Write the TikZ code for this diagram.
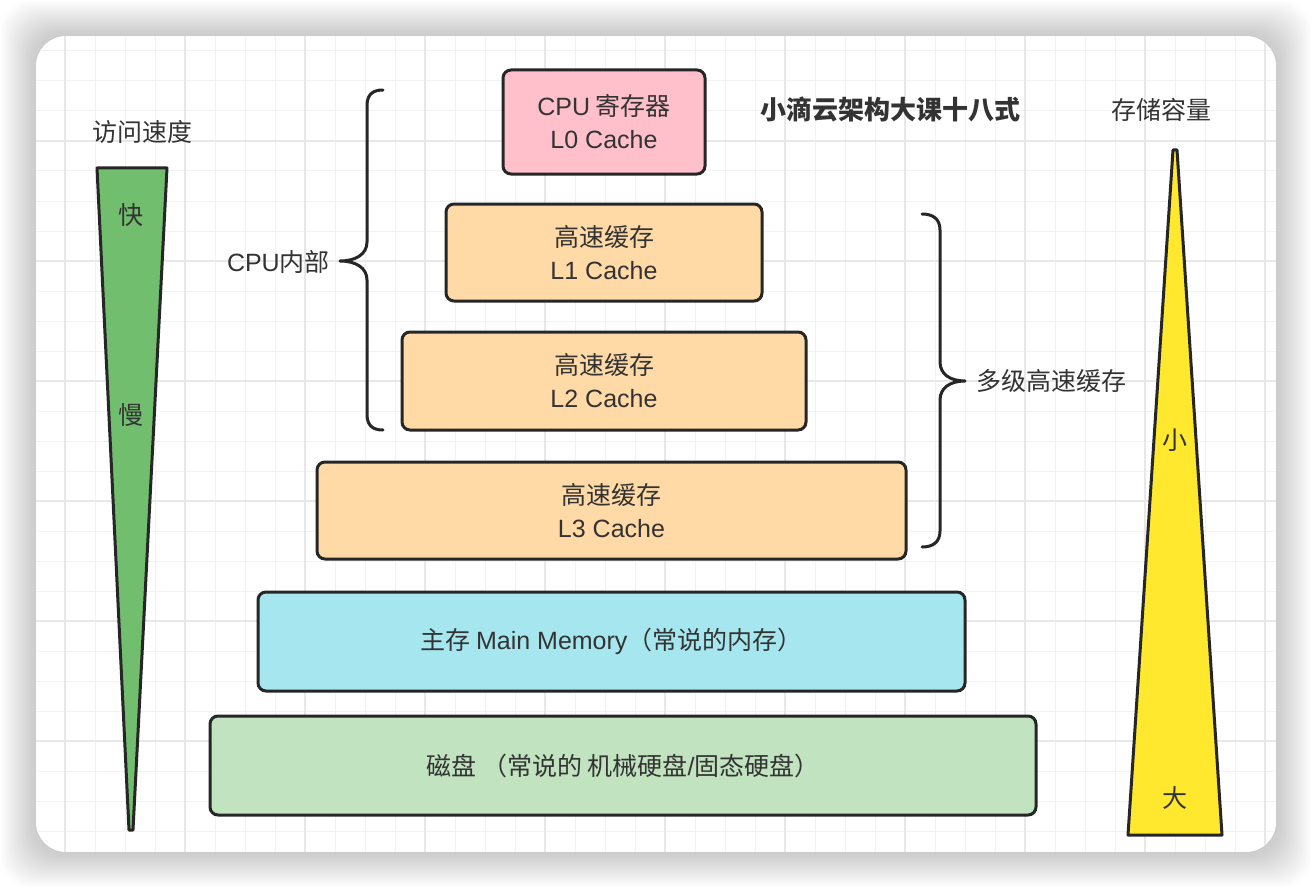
\documentclass[tikz,border=0pt]{standalone}
\usepackage{fontspec}
\setmainfont{Noto Sans CJK SC}
\newfontfamily\latinfont{Liberation Sans}
\usetikzlibrary{positioning}

\definecolor{inkgray}{HTML}{262626}
\definecolor{textgray}{HTML}{333333}
\definecolor{regpink}{HTML}{FFC0CB}
\definecolor{cachepeach}{HTML}{FFDAA6}
\definecolor{memcyan}{HTML}{A6E7EF}
\definecolor{diskgreen}{HTML}{C1E3BF}
\definecolor{speedgreen}{HTML}{71BF6E}
\definecolor{sizeyellow}{HTML}{FFE82E}
\definecolor{gridminor}{HTML}{F2F2F2}
\definecolor{gridmajor}{HTML}{E8E8E8}

\newcommand{\lat}[1]{{\latinfont #1}}

\tikzset{
    levelbox/.style={draw=inkgray, line width=3pt, rounded corners=8pt, align=center,
        text=textgray, inner sep=0pt, font=\fontsize{25pt}{33pt}\selectfont},
    caption/.style={text=textgray, inner sep=0pt, font=\fontsize{25pt}{30pt}\selectfont},
    brace/.style={draw=inkgray, line width=3pt, line cap=round, line join=round},
    wedge/.style={draw=inkgray, line width=3pt, line join=round}
}

\begin{document}
\begin{tikzpicture}[x=1pt, y=-1pt]
    \useasboundingbox (0,0) rectangle (1312,888);

    % card shadow
    \foreach \d in {1,3,...,35}
        \fill[black, opacity=0.011, rounded corners=30pt] (36-\d,36-\d) rectangle (1276+\d,852+\d);

    % card and grid
    \begin{scope}
        \clip[rounded corners=30pt] (36,36) rectangle (1276,852);
        \fill[white] (36,36) rectangle (1276,852);
        \foreach \x in {35,65,...,1275}
            \draw[gridminor, line width=1pt] (\x,36) -- (\x,852);
        \foreach \y in {51,81,...,851}
            \draw[gridminor, line width=1pt] (36,\y) -- (1276,\y);
        \foreach \x in {65,185,...,1265}
            \draw[gridmajor, line width=2pt] (\x,36) -- (\x,852);
        \foreach \y in {21,141,...,861}
            \draw[gridmajor, line width=2pt] (36,\y) -- (1276,\y);
    \end{scope}

    % memory levels
    \node[levelbox, fill=regpink, minimum width=202pt, minimum height=104pt] (l0) at (604,122) {\lat{CPU} 寄存器\\\lat{L0 Cache}};
    \node[levelbox, fill=cachepeach, minimum width=316pt, minimum height=97pt] (l1) at (604,252.5) {高速缓存\\\lat{L1 Cache}};
    \node[levelbox, fill=cachepeach, minimum width=404pt, minimum height=98pt] (l2) at (604,381) {高速缓存\\\lat{L2 Cache}};
    \node[levelbox, fill=cachepeach, minimum width=589pt, minimum height=97pt] (l3) at (611.5,510.5) {高速缓存\\\lat{L3 Cache}};
    \node[levelbox, fill=memcyan, minimum width=707pt, minimum height=99pt] (mem) at (611.5,641.5) {主存 \lat{Main Memory}（常说的内存）};
    \node[levelbox, fill=diskgreen, minimum width=826pt, minimum height=99pt] (disk) at (623,765.5) {磁盘 （常说的 机械硬盘\lat{/}固态硬盘）};

    % title
    \node[caption, font=\fontsize{26pt}{30pt}\selectfont\bfseries] (title) at (890,110) {小滴云架构大课十八式};

    % speed wedge
    \node[caption] (speed) at (142,132) {访问速度};
    \draw[wedge, fill=speedgreen] (97,168) -- (167,168) -- (133,830) -- (129,830) -- cycle;
    \node[caption] (fast) at (131,215) {快};
    \node[caption] (slow) at (131,415) {慢};

    % capacity wedge
    \node[caption] (capacity) at (1161,110) {存储容量};
    \draw[wedge, fill=sizeyellow] (1173,150) -- (1177,150) -- (1222,835) -- (1128,835) -- cycle;
    \node[caption] (small) at (1175,440) {小};
    \node[caption] (large) at (1175,798) {大};

    % brace: inside the CPU
    \draw[brace] (383,90) .. controls (372,90) and (367,95) .. (367,106)
        -- (367,242) .. controls (367,254) and (356,261) .. (340,261)
        .. controls (356,261) and (367,268) .. (367,280)
        -- (367,414) .. controls (367,425) and (372,430) .. (383,430);
    \node[caption, anchor=east] (cpuin) at (330,262) {\lat{CPU}内部};

    % brace: cache levels
    \draw[brace] (922,214) .. controls (933,214) and (940,219) .. (940,230)
        -- (940,362) .. controls (940,374) and (950,381) .. (965,381)
        .. controls (950,381) and (940,388) .. (940,400)
        -- (940,531) .. controls (940,542) and (933,547) .. (922,547);
    \node[caption, anchor=west] (multi) at (976,381) {多级高速缓存};
\end{tikzpicture}
\end{document}
